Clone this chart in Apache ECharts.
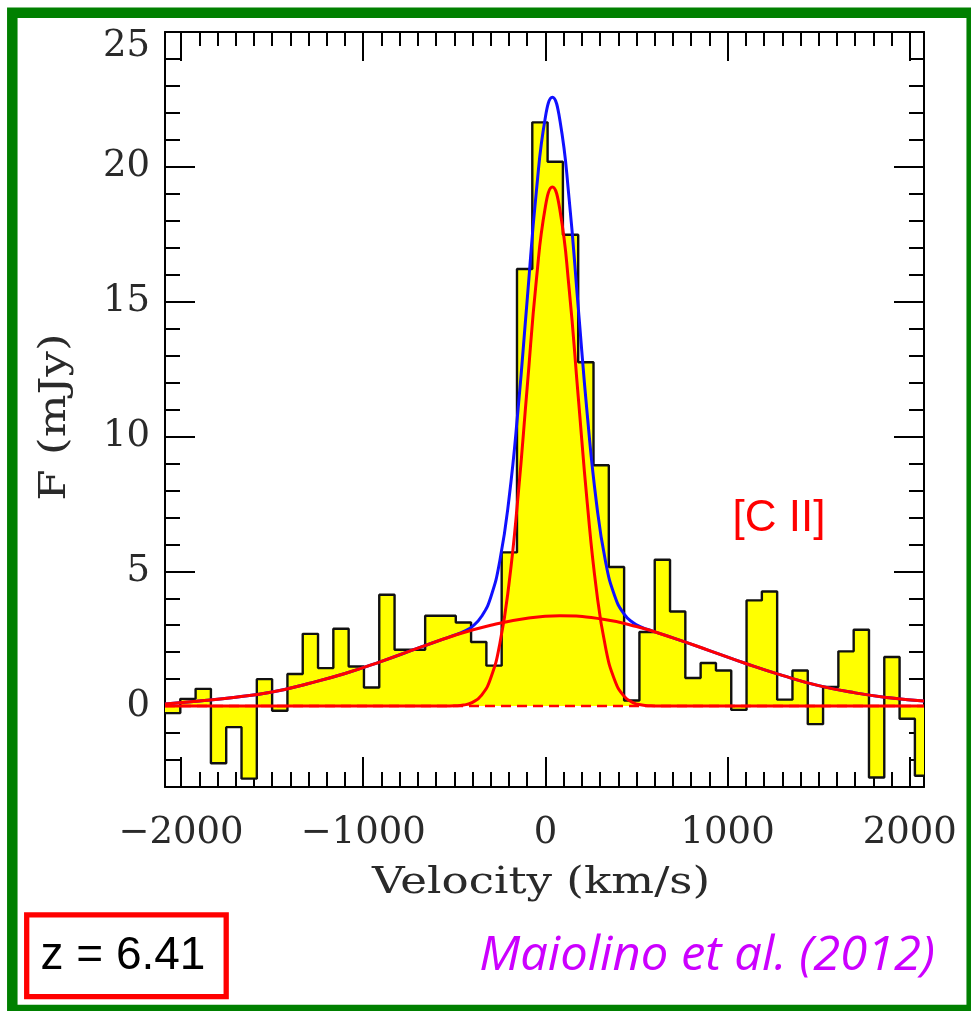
<!DOCTYPE html>
<html>
<head>
<meta charset="utf-8">
<script src="https://cdn.jsdelivr.net/npm/echarts@6/dist/echarts.min.js"></script>
<style>
  html, body { margin: 0; padding: 0; background: #ffffff; }
  #chart { width: 971px; height: 1011px; }
</style>
</head>
<body>
<div id="chart"></div>
<script>
// [C II] line spectrum: left edge of each velocity channel (km/s)
const channelStart = [
  -2088, -2004, -1920, -1836, -1752, -1668, -1584, -1500, -1416, -1332,
  -1248, -1164, -1080, -996, -912, -828, -744, -660, -576, -492,
  -408, -324, -240, -156, -72, 12, 96, 180, 264, 348,
  432, 516, 600, 684, 768, 852, 936, 1020, 1104, 1188,
  1272, 1356, 1440, 1524, 1608, 1692, 1776, 1860, 1944, 2028
];
// flux density in each channel (mJy)
const channelFlux = [
  -0.26, 0.27, 0.64, -2.12, -0.78, -2.69, 1.00, -0.17, 1.19, 2.68,
  1.41, 2.87, 1.47, 0.69, 4.13, 2.09, 2.09, 3.35, 3.35, 3.10,
  2.38, 1.50, 5.70, 16.21, 21.65, 20.19, 17.48, 12.75, 8.93, 5.16,
  0.21, 2.75, 5.43, 3.51, 1.04, 1.60, 1.32, -0.14, 3.92, 4.25,
  0.24, 1.32, -0.67, 0.71, 2.03, 2.83, -2.65, 1.82, -0.47, -2.58
];

// broad Gaussian component (red)
const broadV = [-2088, -1900, -1700, -1500, -1300, -1100, -900, -700, -500, -300, -100, 80,
                300, 500, 700, 900, 1100, 1300, 1500, 1700, 1900, 2078];
const broadF = [0.08, 0.19, 0.33, 0.52, 0.84, 1.21, 1.66, 2.15, 2.62, 3.00, 3.26, 3.35,
                3.24, 2.95, 2.53, 2.06, 1.58, 1.14, 0.76, 0.49, 0.30, 0.19];

// narrow Gaussian component (red)
const narrowV = [-2088, -600, -550, -500, -450, -400, -350, -300, -250, -200, -150, -100, -50, 0,
                 38, 80, 130, 180, 230, 280, 330, 380, 430, 480, 530, 580, 630, 2078];
const narrowF = [0, 0, 0, 0.01, 0.04, 0.14, 0.41, 1.04, 2.32, 4.53, 7.80, 11.82, 15.78, 18.53,
                 19.25, 18.38, 15.49, 11.49, 7.51, 4.31, 2.18, 0.97, 0.38, 0.13, 0.04, 0.01, 0, 0];

// total fit (blue)
const totalV = [-2088, -1900, -1700, -1500, -1300, -1100, -900, -700, -550, -500, -450, -400,
                -350, -300, -250, -200, -150, -100, -50, 0, 38, 80, 130, 180, 230, 280, 330,
                380, 430, 480, 530, 580, 700, 900, 1100, 1300, 1500, 1700, 1900, 2078];
const totalF = [0.08, 0.19, 0.33, 0.52, 0.84, 1.21, 1.66, 2.15, 2.51, 2.63, 2.76, 2.96,
                3.33, 4.04, 5.40, 7.68, 11.01, 15.07, 19.07, 21.85, 22.58, 21.71, 18.82, 14.80, 10.79, 7.55, 5.36,
                4.09, 3.43, 3.10, 2.92, 2.80, 2.53, 2.06, 1.58, 1.14, 0.76, 0.49, 0.30, 0.19];

// continuum level (dashed)
const baselineV = [-2088, 2078];
const baselineF = [0, 0];

// axis extent and ticks
const xRange = [-2088, 2078];
const yRange = [-3, 25];
const xMajorTicks = [-2000, -1000, 0, 1000, 2000];
const yMajorTicks = [0, 5, 10, 15, 20, 25];

const xMinorTicks = [];
for (let v = -2000; v <= 2000; v += 100) if (xMajorTicks.indexOf(v) < 0) xMinorTicks.push(v);
const yMinorTicks = [];
for (let v = -2; v <= 24; v += 1) if (yMajorTicks.indexOf(v) < 0) yMinorTicks.push(v);

const pairs = (xs, ys) => xs.map((x, i) => [x, ys[i]]);
const histData = pairs(channelStart, channelFlux);
histData.push([xRange[1], channelFlux[channelFlux.length - 1]]);

const INK = '#000000';
const LABEL_FONT = { fontFamily: 'DejaVu Serif', fontSize: 37, color: '#2a2a2a' };
const minus = v => (v < 0 ? '\u2212' + Math.abs(v) : String(v));

function xAxisDef(position, ticks, len, withLine, withLabels) {
  return {
    type: 'value', position: position, min: xRange[0], max: xRange[1],
    axisLine: { show: withLine, onZero: false, lineStyle: { color: INK, width: 2 } },
    axisTick: { show: true, inside: true, length: len, customValues: ticks,
                lineStyle: { color: INK, width: 2 } },
    axisLabel: withLabels
      ? Object.assign({ show: true, customValues: ticks, margin: 28, formatter: minus }, LABEL_FONT)
      : { show: false },
    splitLine: { show: false }
  };
}
function yAxisDef(position, ticks, len, withLine, withLabels) {
  return {
    type: 'value', position: position, min: yRange[0], max: yRange[1],
    axisLine: { show: withLine, onZero: false, lineStyle: { color: INK, width: 2 } },
    axisTick: { show: true, inside: true, length: len, customValues: ticks,
                lineStyle: { color: INK, width: 2 } },
    axisLabel: withLabels
      ? Object.assign({
          show: true, customValues: ticks, margin: 15,
          formatter: v => (v === yRange[1] ? '{edge|' + v + '}' : String(v)),
          rich: { edge: Object.assign({ padding: [28, 0, 0, 0] }, LABEL_FONT) }
        }, LABEL_FONT)
      : { show: false },
    splitLine: { show: false }
  };
}

const chart = echarts.init(document.getElementById('chart'), null, { renderer: 'canvas' });

chart.setOption({
  animation: false,
  backgroundColor: '#ffffff',
  grid: { left: 165, top: 32, width: 759, height: 755, containLabel: false },
  xAxis: [
    xAxisDef('bottom', xMajorTicks, 30, true, true),
    xAxisDef('bottom', xMinorTicks, 15, false, false),
    xAxisDef('top', xMajorTicks, 29, true, false),
    xAxisDef('top', xMinorTicks, 14, false, false)
  ],
  yAxis: [
    yAxisDef('left', yMajorTicks, 30, true, true),
    yAxisDef('left', yMinorTicks, 15, false, false),
    yAxisDef('right', yMajorTicks, 30, true, false),
    yAxisDef('right', yMinorTicks, 15, false, false)
  ],
  series: [
    {
      name: 'spectrum', type: 'line', step: 'end', data: histData,
      symbol: 'none', z: 2,
      lineStyle: { color: '#111111', width: 2.4 },
      areaStyle: { color: '#ffff00', opacity: 1, origin: 0 }
    },
    {
      name: 'continuum', type: 'line', data: pairs(baselineV, baselineF),
      symbol: 'none', z: 3,
      lineStyle: { color: '#ff0000', width: 2.5, type: [10, 6] }
    },
    {
      name: 'total', type: 'line', data: pairs(totalV, totalF),
      symbol: 'none', smooth: 0.5, z: 4,
      lineStyle: { color: '#1010ff', width: 3 }
    },
    {
      name: 'broad', type: 'line', data: pairs(broadV, broadF),
      symbol: 'none', smooth: 0.5, z: 5,
      lineStyle: { color: '#ff0000', width: 3 }
    },
    {
      name: 'narrow', type: 'line', data: pairs(narrowV, narrowF),
      symbol: 'none', smooth: 0.5, z: 6,
      lineStyle: { color: '#ff0000', width: 3 }
    }
  ],
  graphic: [
    { type: 'rect', z: 100, silent: true,
      shape: { x: 12.3, y: 12.8, width: 959.4, height: 997.2 },
      style: { fill: 'none', stroke: '#008000', lineWidth: 10.5 } },
    { type: 'rect', z: 90,
      shape: { x: 26.7, y: 914.8, width: 199.5, height: 81.9 },
      style: { fill: '#ffffff', stroke: '#ff0000', lineWidth: 5.3 } },
    { type: 'text', z: 91, x: 40.5, y: 956.7,
      style: { text: 'z = 6.41', fontFamily: 'Liberation Sans', fontSize: 46, fill: '#000000',
               align: 'left', textAlign: 'left', verticalAlign: 'middle', textVerticalAlign: 'middle' } },
    { type: 'text', z: 91, x: 935, y: 956, scaleX: 1.02,
      style: { text: 'Maiolino et al. (2012)', fontFamily: 'Open Sans', fontStyle: 'italic', fontSize: 48,
               fill: '#cc00ff', align: 'right', textAlign: 'right', verticalAlign: 'middle', textVerticalAlign: 'middle' } },
    { type: 'text', z: 91, x: 779, y: 519,
      style: { text: '[C II]', fontFamily: 'Liberation Sans', fontSize: 44, fill: '#ff0000',
               align: 'center', textAlign: 'center', verticalAlign: 'middle', textVerticalAlign: 'middle' } },
    { type: 'text', z: 91, x: 541, y: 883, scaleX: 1.22,
      style: { text: 'Velocity (km/s)', fontFamily: 'DejaVu Serif', fontSize: 37, fill: '#2a2a2a',
               align: 'center', textAlign: 'center', verticalAlign: 'middle', textVerticalAlign: 'middle' } },
    { type: 'text', z: 91, x: 55, y: 417, rotation: Math.PI / 2, scaleX: 1.22,
      style: { text: 'F (mJy)', fontFamily: 'DejaVu Serif', fontSize: 37, fill: '#2a2a2a',
               align: 'center', textAlign: 'center', verticalAlign: 'middle', textVerticalAlign: 'middle' } }
  ]
});
</script>
</body>
</html>
